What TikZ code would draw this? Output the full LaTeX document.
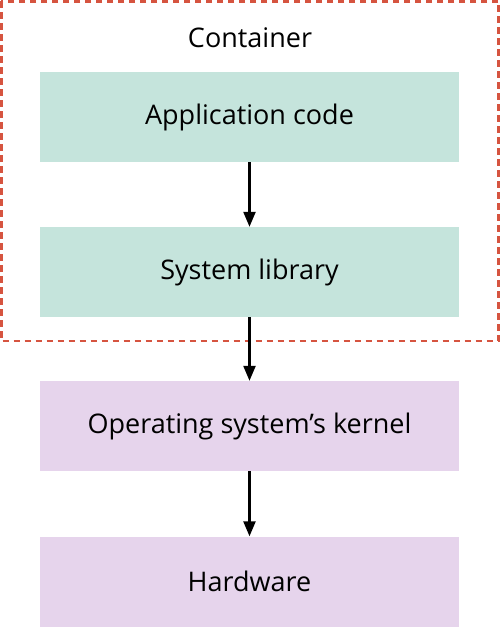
\documentclass[tikz,border=0pt]{standalone}
\usepackage{fontspec}
\setmainfont{Open Sans}
\usetikzlibrary{arrows.meta}
\definecolor{contred}{RGB}{214,84,64}
\definecolor{tealbox}{RGB}{197,228,220}
\definecolor{purplebox}{RGB}{230,212,236}
\tikzset{
  layer/.style={minimum width=419pt, minimum height=90pt, inner sep=0pt, font=\fontsize{27}{32}\selectfont},
  conn/.style={line width=2.3pt, -{Triangle[length=15pt,width=12pt]}, shorten >=0pt},
}
\begin{document}
\begin{tikzpicture}[x=1pt,y=-1pt]
\useasboundingbox (0,0) rectangle (500,627);
\node[layer, fill=tealbox] (app) at (249.5,117) {Application code};
\node[layer, fill=tealbox] (lib) at (249.5,272) {System library};
\node[layer, fill=purplebox] (os) at (249.5,426) {Operating system’s kernel};
\node[layer, fill=purplebox] (hw) at (249.5,581.5) {Hardware};
\draw[contred, line width=2.6pt, dash pattern=on 6.5pt off 4.5pt] (1.3,1.3) rectangle (498.5,341);
\node[font=\fontsize{27}{32}\selectfont, inner sep=0pt] (cont) at (250,38) {Container};
\draw[conn] (app.south) -- (lib.north);
\draw[conn] (lib.south) -- (os.north);
\draw[conn] (os.south) -- (hw.north);
\end{tikzpicture}
\end{document}
